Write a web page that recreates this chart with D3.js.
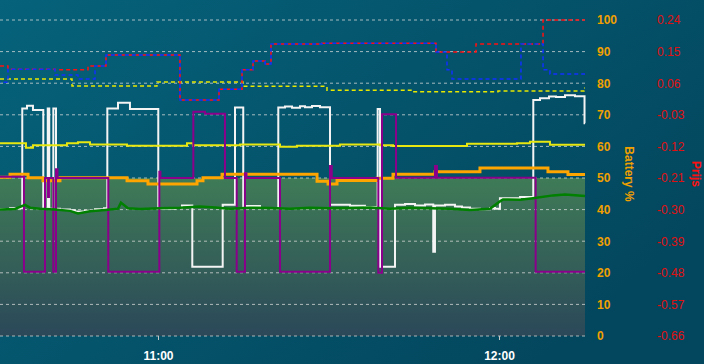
<!DOCTYPE html>
<html>
<head>
<meta charset="utf-8">
<script src="https://cdn.jsdelivr.net/npm/d3@7"></script>
<style>
  html, body { margin: 0; padding: 0; background: #045268; }
  svg { display: block; font-family: "Liberation Sans", Arial, sans-serif; }
</style>
</head>
<body>
<div id="container"></div>
<script>
// chart size
const width = 704;
const height = 364;
const plotLeft = 0;
const plotRight = 585;
const plotTop = 20;
const plotBottom = 336;

// time range shown
const startTime = "10:32:12";
const endTime = "12:15:08";

// tick labels
const xTickLabels = ["11:00", "12:00"];
const batteryTicks = [0, 10, 20, 30, 40, 50, 60, 70, 80, 90, 100];
const priceTicks = ["-0.66", "-0.57", "-0.48", "-0.39", "-0.30", "-0.21", "-0.12", "-0.03", "0.06", "0.15", "0.24"];

// green band (0..50 %)
const bandTimes = ["10:32:12", "12:15:08"];
const bandValues = [50, 50];

// price series (Prijs axis)
const priceRedTimes = ["10:32:12", "10:33:36", "10:41:53", "10:47:41", "10:50:51", "11:03:52", "11:10:44", "11:14:47",
  "11:16:43", "11:18:50", "11:19:53", "11:28:51", "11:48:55", "11:55:57", "12:07:45", "12:15:08"];
const priceRedValues = [0.109, 0.100, 0.098, 0.109, 0.140, 0.012, 0.043, 0.098,
  0.123, 0.115, 0.172, 0.174, 0.149, 0.172, 0.240, 0.240];

const priceBlueTimes = ["10:32:12", "10:33:36", "10:41:53", "10:45:55", "10:48:55", "10:50:51", "11:03:52", "11:10:44",
  "11:14:47", "11:16:43", "11:18:50", "11:19:53", "11:28:51", "11:48:55", "11:50:51", "11:51:44",
  "12:03:52", "12:07:45", "12:08:58", "12:15:08"];
const priceBlueValues = [0.063, 0.100, 0.083, 0.072, 0.109, 0.140, 0.012, 0.043,
  0.098, 0.123, 0.115, 0.172, 0.174, 0.149, 0.098, 0.072,
  0.172, 0.098, 0.086, 0.086];

// yellow dashed (%)
const yellowDashTimes = ["10:32:12", "10:44:52", "10:59:49", "11:14:57", "11:29:44", "11:44:52", "11:59:49", "12:14:57", "12:15:08"];
const yellowDashValues = [81.3, 79.1, 80.4, 79.0, 77.8, 77.3, 77.5, 78.5, 78.5];

// white line (%)
const whiteTimes = ["10:32:12", "10:33:58", "10:36:07", "10:36:57", "10:38:00", "10:39:49", "10:40:36", "10:40:52",
  "10:41:35", "10:42:03", "10:42:45", "10:44:31", "10:45:24", "10:47:09", "10:48:55", "10:50:30",
  "10:51:05", "10:52:58", "10:55:04", "11:00:03", "11:02:59", "11:04:13", "11:06:02", "11:11:23",
  "11:13:33", "11:15:00", "11:17:57", "11:21:10", "11:22:21", "11:23:35", "11:24:59", "11:25:52",
  "11:27:06", "11:28:30", "11:30:16", "11:33:47", "11:36:25", "11:38:39", "11:39:04", "11:41:42",
  "11:43:28", "11:45:13", "11:46:59", "11:48:26", "11:48:44", "11:50:30", "11:52:15", "11:53:29",
  "11:54:54", "11:56:39", "11:58:25", "11:59:18", "12:00:10", "12:03:42", "12:06:02", "12:07:13",
  "12:08:48", "12:10:02", "12:11:37", "12:13:22", "12:15:03", "12:15:08"];
const whiteValues = [40.2, 40.4, 72.0, 72.9, 71.5, 40.3, 72.0, 40.3,
  72.0, 40.3, 40.0, 39.8, 39.4, 39.6, 40.1, 40.4,
  72.0, 73.8, 71.8, 40.3, 40.5, 41.3, 21.9, 41.5,
  72.3, 41.1, 40.5, 72.3, 72.6, 72.2, 72.7, 72.4,
  72.8, 72.4, 41.5, 41.2, 40.8, 71.8, 21.9, 41.5,
  41.8, 41.3, 41.6, 26.7, 41.3, 41.5, 41.0, 40.7,
  40.3, 40.1, 40.5, 40.3, 43.6, 44.0, 74.7, 75.2,
  75.8, 75.6, 76.2, 75.9, 67.3, 67.3];

// yellow solid (%)
const yellowTimes = ["10:32:12", "10:36:46", "10:38:00", "10:43:59", "10:45:55", "10:48:02", "10:54:33", "11:05:06",
  "11:06:09", "11:14:26", "11:21:28", "11:24:27", "11:32:01", "11:39:04", "11:41:21", "11:54:22",
  "12:03:10", "12:05:27", "12:08:58", "12:15:08"];
const yellowValues = [61.0, 59.6, 60.4, 61.0, 61.3, 60.6, 60.2, 61.0,
  60.4, 60.6, 59.9, 60.2, 60.6, 60.4, 60.1, 60.8,
  61.0, 61.5, 60.5, 60.5];

// battery % (orange)
const batteryTimes = ["10:32:12", "10:33:58", "10:37:08", "10:39:46", "10:42:45", "10:54:33", "10:58:14", "11:06:52",
  "11:07:55", "11:11:16", "11:27:59", "11:29:55", "11:31:30", "11:38:32", "11:41:21", "11:48:44",
  "11:56:39", "12:08:37", "12:12:08", "12:15:08"];
const batteryValues = [50.2, 51.2, 50.1, 49.1, 50.1, 49.1, 48.1, 49.1,
  50.1, 51.2, 49.0, 48.1, 49.2, 49.9, 51.2, 52.0,
  53.2, 52.0, 51.1, 51.1];

// purple (%)
const purpleTimes = ["10:32:12", "10:36:25", "10:40:07", "10:40:39", "10:40:49", "10:41:35", "10:42:03", "10:42:19",
  "10:51:15", "11:00:14", "11:00:26", "11:06:13", "11:08:16", "11:11:47", "11:13:51", "11:15:18",
  "11:15:34", "11:21:28", "11:30:16", "11:30:34", "11:38:46", "11:39:25", "11:41:53", "11:48:44",
  "11:49:05", "12:06:27", "12:15:08"];
const purpleValues = [50.4, 20.3, 50.0, 44.0, 50.0, 20.3, 52.8, 50.0,
  20.3, 52.0, 50.0, 71.0, 70.3, 50.0, 20.3, 51.5,
  50.0, 20.3, 53.8, 50.0, 20.0, 70.2, 50.1, 53.8,
  50.1, 20.3, 20.3];

// green (%)
const greenTimes = ["10:32:12", "10:34:50", "10:36:36", "10:37:29", "10:39:14", "10:41:53", "10:44:31", "10:45:55",
  "10:48:02", "10:50:41", "10:52:58", "10:53:29", "10:54:43", "10:56:50", "11:00:21", "11:03:52",
  "11:07:23", "11:10:02", "11:12:40", "11:16:11", "11:19:42", "11:23:13", "11:26:45", "11:30:16",
  "11:33:47", "11:37:18", "11:40:49", "11:44:20", "11:47:51", "11:51:23", "11:54:54", "11:58:25",
  "12:00:10", "12:00:42", "12:03:42", "12:05:59", "12:09:30", "12:11:37", "12:15:08"];
const greenValues = [40.0, 40.2, 41.5, 40.6, 40.3, 40.0, 39.6, 38.8,
  39.5, 39.9, 40.3, 42.2, 40.4, 40.2, 40.4, 40.6,
  41.0, 40.7, 40.3, 40.6, 40.5, 40.3, 40.6, 40.4,
  40.5, 40.7, 40.3, 40.6, 40.4, 40.3, 39.9, 40.3,
  42.6, 43.2, 43.1, 43.6, 44.5, 44.8, 44.3];

const parseTime = d3.timeParse("%H:%M:%S");
const zip = (times, values) => times.map((t, i) => ({ t: parseTime(t), v: values[i] }));

const x = d3.scaleTime()
  .domain([parseTime(startTime), parseTime(endTime)])
  .range([plotLeft, plotRight]);
const yPct = d3.scaleLinear().domain([0, 100]).range([plotBottom, plotTop]);
const yPrice = d3.scaleLinear().domain([-0.66, 0.24]).range([plotBottom, plotTop]);

const svg = d3.create("svg").attr("width", width).attr("height", height);

// background + gradients
const defs = svg.append("defs");
const bg = defs.append("linearGradient").attr("id", "bg")
  .attr("x1", "0").attr("y1", "0").attr("x2", "1").attr("y2", "0.6");
bg.append("stop").attr("offset", "0").attr("stop-color", "#05627a");
bg.append("stop").attr("offset", "1").attr("stop-color", "#03475e");

const band = defs.append("linearGradient").attr("id", "band")
  .attr("x1", "0").attr("y1", "0").attr("x2", "0").attr("y2", "1");
band.append("stop").attr("offset", "0").attr("stop-color", "#3f7b57");
band.append("stop").attr("offset", "1").attr("stop-color", "#2b4859");

svg.append("rect").attr("width", width).attr("height", height).attr("fill", "url(#bg)");

// green band area
svg.append("path")
  .datum(zip(bandTimes, bandValues))
  .attr("fill", "url(#band)")
  .attr("d", d3.area().x(d => x(d.t)).y0(yPct(0)).y1(d => yPct(d.v)));

// grid lines
svg.append("g")
  .selectAll("line")
  .data(batteryTicks)
  .join("line")
  .attr("x1", plotLeft)
  .attr("x2", plotRight)
  .attr("y1", d => yPct(d))
  .attr("y2", d => yPct(d))
  .attr("stroke", "#dcdcdc")
  .attr("stroke-opacity", 0.75)
  .attr("stroke-width", 1)
  .attr("stroke-dasharray", "3,3");

// x axis
const xAxis = svg.append("g")
  .attr("transform", `translate(0,${plotBottom})`)
  .call(d3.axisBottom(x)
    .tickValues(xTickLabels.map(s => parseTime(s + ":00")))
    .tickFormat(d3.timeFormat("%H:%M"))
    .tickSize(4)
    .tickPadding(11));
xAxis.select(".domain").remove();
xAxis.selectAll("line").attr("stroke", "#c8c8c8");
xAxis.selectAll("text")
  .attr("fill", "#ffffff")
  .attr("font-size", 12)
  .attr("font-weight", "bold")
  .attr("font-family", "Liberation Sans, Arial, sans-serif");

// right axes
const battAxis = svg.append("g")
  .attr("transform", `translate(${plotRight},0)`)
  .call(d3.axisRight(yPct).tickValues(batteryTicks).tickSize(0).tickPadding(12));
battAxis.select(".domain").remove();
battAxis.selectAll("text")
  .attr("fill", "#f0a000")
  .attr("font-size", 12)
  .attr("font-weight", "bold")
  .attr("font-family", "Liberation Sans, Arial, sans-serif");

const priceAxis = svg.append("g")
  .attr("transform", `translate(${plotRight},0)`)
  .call(d3.axisRight(yPrice)
    .tickValues(priceTicks.map(Number))
    .tickFormat((d, i) => priceTicks[i])
    .tickSize(0)
    .tickPadding(72));
priceAxis.select(".domain").remove();
priceAxis.selectAll("text")
  .attr("fill", "#e01010")
  .attr("font-size", 12)
  .attr("font-family", "Liberation Sans, Arial, sans-serif");

svg.append("text")
  .attr("transform", "translate(625,174) rotate(90)")
  .attr("text-anchor", "middle")
  .attr("fill", "#f0a000")
  .attr("font-size", 12)
  .attr("font-weight", "bold")
  .text("Battery %");

svg.append("text")
  .attr("transform", "translate(692,174) rotate(90)")
  .attr("text-anchor", "middle")
  .attr("fill", "#ff1010")
  .attr("font-size", 12)
  .attr("font-weight", "bold")
  .text("Prijs");

// series lines
const stepPct = d3.line().x(d => x(d.t)).y(d => yPct(d.v)).curve(d3.curveStepAfter);
const stepPrice = d3.line().x(d => x(d.t)).y(d => yPrice(d.v)).curve(d3.curveStepAfter);
const linePct = d3.line().x(d => x(d.t)).y(d => yPct(d.v));

function addLine(data, gen, color, w, dash, offset) {
  svg.append("path")
    .datum(data)
    .attr("fill", "none")
    .attr("stroke", color)
    .attr("stroke-width", w)
    .attr("stroke-dasharray", dash || null)
    .attr("stroke-dashoffset", offset || 0)
    .attr("d", gen);
}

addLine(zip(yellowDashTimes, yellowDashValues), stepPct, "#e8e800", 1.5, "4,3");
addLine(zip(priceRedTimes, priceRedValues), stepPrice, "#ff1010", 1.5, "4,3");
addLine(zip(priceBlueTimes, priceBlueValues), stepPrice, "#1030ff", 1.5, "4,3", 3.5);
addLine(zip(whiteTimes, whiteValues), stepPct, "#f4f4f4", 2);
addLine(zip(yellowTimes, yellowValues), stepPct, "#e8e810", 2);
addLine(zip(batteryTimes, batteryValues), stepPct, "orange", 3);
addLine(zip(purpleTimes, purpleValues), stepPct, "#8b008b", 2);
addLine(zip(greenTimes, greenValues), linePct, "green", 2.5);

document.getElementById("container").append(svg.node());
</script>
</body>
</html>
